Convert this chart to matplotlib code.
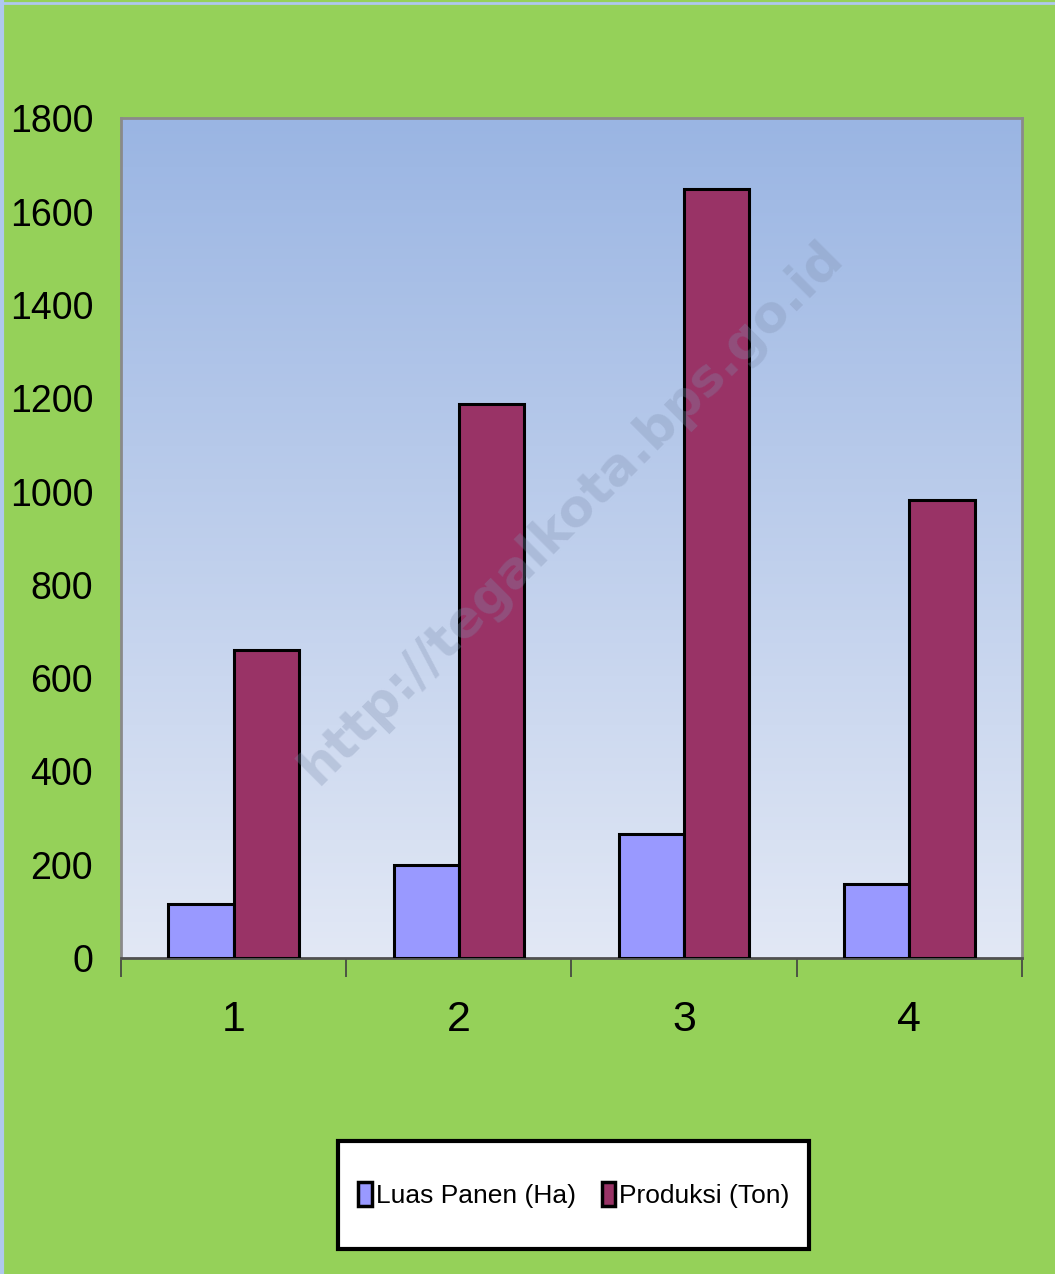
import numpy as np
import matplotlib
matplotlib.use("Agg")
from matplotlib import pyplot as plt
from matplotlib.colors import LinearSegmentedColormap
from matplotlib.lines import Line2D
from matplotlib.patches import Rectangle

plt.rcParams['font.family'] = ['Liberation Sans Narrow', 'Liberation Sans', 'DejaVu Sans']

categories = ["1", "2", "3", "4"]
luas_panen = [115, 199, 267, 158]
produksi = [660, 1188, 1648, 982]
series_names = ["Luas Panen (Ha)", "Produksi (Ton)"]
y_ticks = [0, 200, 400, 600, 800, 1000, 1200, 1400, 1600, 1800]

hijau = "#95D159"
fig = plt.figure(figsize=(10.55, 12.74), dpi=100, facecolor=hijau)
ax = fig.add_axes([0.1147, 0.248, 0.854, 0.659])

# garis tipis biru di tepi kiri & atas gambar
fig.add_artist(Line2D([0.002, 0.002], [0, 1], transform=fig.transFigure, color="#AFC8EE", lw=3))
fig.add_artist(Line2D([0, 1], [0.998, 0.998], transform=fig.transFigure, color="#AFC8EE", lw=2))

# latar gradasi biru
grad = LinearSegmentedColormap.from_list("bg", ["#E2E8F5", "#9AB5E3"])
ax.imshow(np.linspace(0, 1, 256).reshape(-1, 1), aspect="auto", cmap=grad,
          extent=[0, 1, 0, 1], transform=ax.transAxes, origin="lower", zorder=0)

x = np.arange(1, len(categories) + 1)
w = 0.29
ax.bar(x - w / 2, luas_panen, w, color="#9999FF", edgecolor="black", linewidth=2.2,
       label=series_names[0], zorder=3)
ax.bar(x + w / 2, produksi, w, color="#993366", edgecolor="black", linewidth=2.2,
       label=series_names[1], zorder=3)

ax.set_xlim(0.5, 4.5)
ax.set_ylim(0, 1800)
ax.set_yticks(y_ticks)
ax.set_xticks(x)
ax.set_xticklabels(categories)
ax.set_xticks(np.arange(0.5, 5.0, 1.0), minor=True)
ax.tick_params(axis="x", which="major", length=0, pad=30, labelsize=31)
ax.tick_params(axis="x", which="minor", length=14, width=1.2, color="#404040", direction="out")
ax.tick_params(axis="y", length=0, pad=20, labelsize=27)
for s in ["left", "top", "right"]:
    ax.spines[s].set_color("#8A8A8A")
    ax.spines[s].set_linewidth(2)
ax.spines["bottom"].set_color("#505050")
ax.spines["bottom"].set_linewidth(2)

# watermark
ax.text(0.5, 0.53, "http://tegalkota.bps.go.id", transform=ax.transAxes, rotation=45,
        ha="center", va="center", fontsize=37, fontweight="bold", color="#7F8FAF",
        alpha=0.3, family=["DejaVu Sans"], zorder=4)

# kotak legenda
fig.add_artist(Rectangle((0.3205, 0.0195), 0.4465, 0.085, transform=fig.transFigure,
                         facecolor="white", edgecolor="black", linewidth=3, zorder=5))
leg = fig.legend(loc="center", bbox_to_anchor=(0.544, 0.062), ncol=2, fontsize=19,
                 frameon=False, handlelength=0.5, handleheight=1.05, handletextpad=0.15,
                 columnspacing=1.0, borderpad=0.3)
leg.set_zorder(6)
for h in leg.legend_handles:
    h.set_linewidth(2.5)

fig.savefig("out.png", dpi=100, facecolor=hijau)
